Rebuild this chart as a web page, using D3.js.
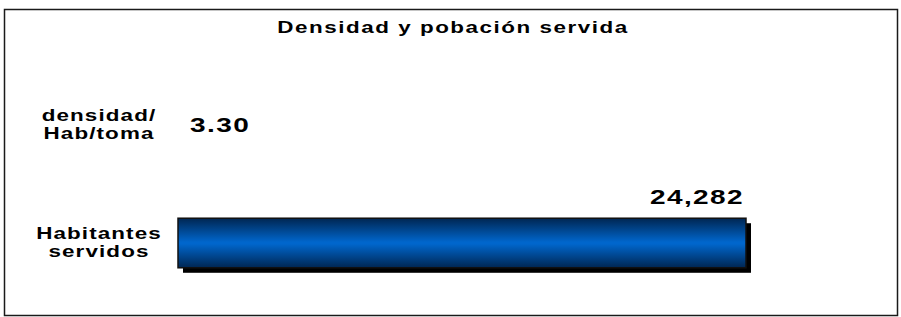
<!DOCTYPE html>
<html>
<head>
<meta charset="utf-8">
<script src="https://cdn.jsdelivr.net/npm/d3@7"></script>
<style>
  html, body { margin: 0; padding: 0; background: #fff; }
  svg text { font-family: Arial, "Liberation Sans", sans-serif; font-weight: bold; fill: #000; }
</style>
</head>
<body>
<div id="chart"></div>
<script>
// datos
var title = 'Densidad y pobación servida';
var categories = ['densidad/\nHab/toma', 'Habitantes\nservidos'];
var values = [3.30, 24282];
var valueLabels = ['3.30', '24,282'];

var width = 901, height = 317;
var stretch = 1.4; // the original text is drawn wide

var svg = d3.select('#chart').append('svg')
    .attr('width', width)
    .attr('height', height);

var defs = svg.append('defs');
var grad = defs.append('linearGradient')
    .attr('id', 'barGrad')
    .attr('x1', 0).attr('y1', 0).attr('x2', 0).attr('y2', 1);
grad.append('stop').attr('offset', '0%').attr('stop-color', '#002652');
grad.append('stop').attr('offset', '48%').attr('stop-color', '#0066cc');
grad.append('stop').attr('offset', '52%').attr('stop-color', '#0066cc');
grad.append('stop').attr('offset', '100%').attr('stop-color', '#002652');

// marco
svg.append('rect')
    .attr('x', 4.5).attr('y', 9.5)
    .attr('width', 893).attr('height', 306)
    .attr('fill', '#fff')
    .attr('stroke', '#1a1a1a')
    .attr('stroke-width', 1.5);

function wideText(parent, x, y, str, size, anchor, spacing) {
    var g = parent.append('g')
        .attr('transform', 'translate(' + x + ',' + y + ') scale(' + stretch + ',1)');
    return g.append('text')
        .attr('x', 0).attr('y', 0)
        .attr('text-anchor', anchor)
        .style('font-size', size + 'px')
        .style('letter-spacing', spacing + 'px')
        .text(str);
}

wideText(svg, 453, 33, title, 16, 'middle', 1.1);

var plotLeft = 178, plotRight = 760;
var x = d3.scaleLinear()
    .domain([0, d3.max(values)])
    .range([plotLeft, 746]);

var y = d3.scaleBand()
    .domain(categories)
    .range([66, 302])
    .padding(0);

var barH = y.bandwidth() * 0.42;
var shadow = 5;

var rows = svg.selectAll('g.row')
    .data(categories.map(function(c, i) { return { cat: c, value: values[i], label: valueLabels[i] }; }))
    .enter().append('g')
    .attr('class', 'row');

// sombra
rows.filter(function(d) { return x(d.value) - plotLeft > 1; })
    .append('rect')
    .attr('x', plotLeft + shadow)
    .attr('y', function(d) { return y(d.cat) + y.bandwidth() / 2 - barH / 2 + shadow; })
    .attr('width', function(d) { return x(d.value) - plotLeft; })
    .attr('height', barH)
    .attr('fill', '#000');

rows.filter(function(d) { return x(d.value) - plotLeft > 1; })
    .append('rect')
    .attr('x', plotLeft)
    .attr('y', function(d) { return y(d.cat) + y.bandwidth() / 2 - barH / 2; })
    .attr('width', function(d) { return x(d.value) - plotLeft; })
    .attr('height', barH)
    .attr('fill', 'url(#barGrad)')
    .attr('stroke', '#111')
    .attr('stroke-width', 1.5);

// etiquetas de categoria
rows.each(function(d) {
    var lines = d.cat.split('\n');
    var cy = y(d.cat) + y.bandwidth() / 2;
    var lh = 18;
    var g = d3.select(this);
    lines.forEach(function(line, k) {
        var ly = cy - (lines.length - 1) * lh / 2 + k * lh + 5;
        wideText(g, 99, ly, line, 16, 'middle', 0.8);
    });
});

// etiquetas de valor
rows.each(function(d) {
    var g = d3.select(this);
    var xe = x(d.value);
    var cy = y(d.cat) + y.bandwidth() / 2;
    var t = wideText(g, 0, 0, d.label, 20, 'start', 1);
    var w = t.node().getComputedTextLength() * stretch;
    var parent = d3.select(t.node().parentNode);
    if (xe + 12 + w <= plotRight) {
        parent.attr('transform', 'translate(' + (xe + 12) + ',' + (cy + 7) + ') scale(' + stretch + ',1)');
    } else {
        t.attr('text-anchor', 'end');
        parent.attr('transform', 'translate(' + (xe - 2) + ',' + (cy - barH / 2 - 14) + ') scale(' + stretch + ',1)');
    }
});
</script>
</body>
</html>
